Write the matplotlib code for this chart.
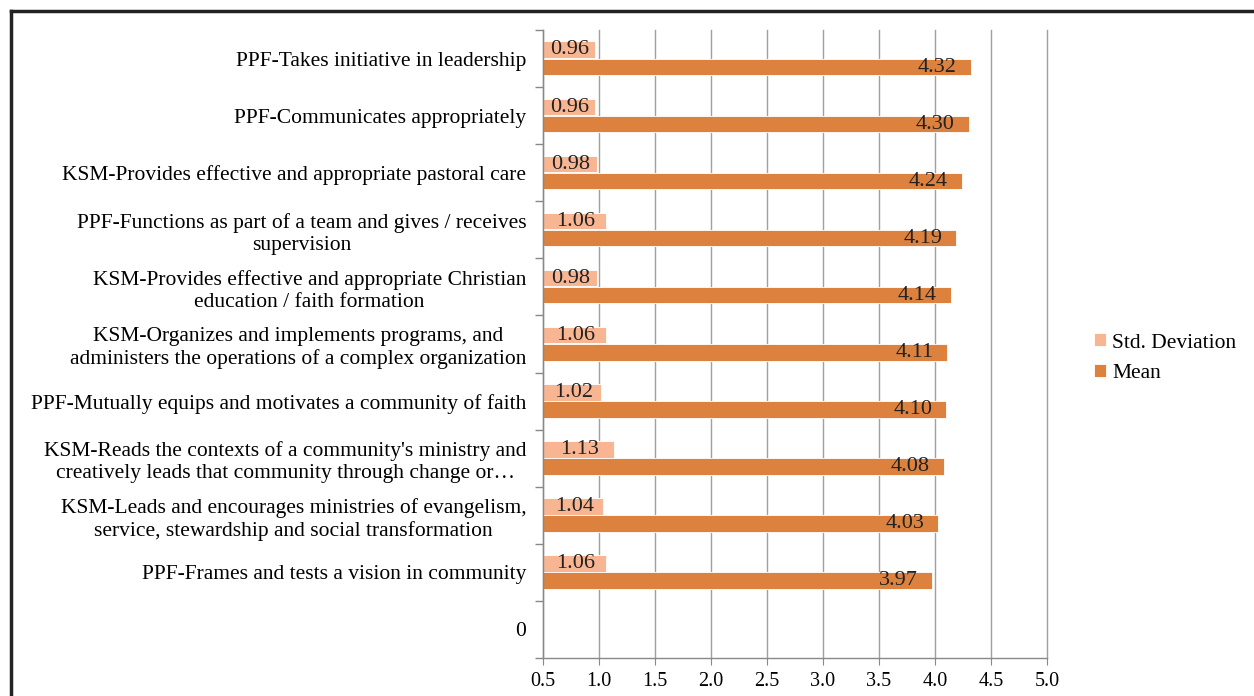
import matplotlib.pyplot as plt
import numpy as np

plt.rcParams['font.family'] = ['Liberation Serif', 'DejaVu Serif']

# categories from bottom to top (Excel order)
labels = [
    "0",
    "PPF-Frames and tests a vision in community",
    "KSM-Leads and encourages ministries of evangelism,\nservice, stewardship and social transformation",
    "KSM-Reads the contexts of a community's ministry and\ncreatively leads that community through change or\u2026",
    "PPF-Mutually equips and motivates a community of faith",
    "KSM-Organizes and implements programs, and\nadministers the operations of a complex organization",
    "KSM-Provides effective and appropriate Christian\neducation / faith formation",
    "PPF-Functions as part of a team and gives / receives\nsupervision",
    "KSM-Provides effective and appropriate pastoral care",
    "PPF-Communicates appropriately",
    "PPF-Takes initiative in leadership",
]
std_dev = [None, 1.06, 1.04, 1.13, 1.02, 1.06, 0.98, 1.06, 0.98, 0.96, 0.96]
mean = [None, 3.97, 4.03, 4.08, 4.10, 4.11, 4.14, 4.19, 4.24, 4.30, 4.32]

std_color = '#F8B592'
mean_color = '#DC823E'
axis_min = 0.5

fig = plt.figure(figsize=(12.54, 6.96), dpi=100)
ax = fig.add_axes([0.433, 0.0546, 0.402, 0.9023])

y = np.arange(len(labels))
h = 0.29
for i in range(len(labels)):
    if std_dev[i] is None:
        continue
    s, m = std_dev[i], mean[i]
    ax.barh(y[i] + 0.155, s - axis_min, left=axis_min, height=h,
            color=std_color, edgecolor='white', linewidth=0.6,
            label='Std. Deviation' if i == 1 else None)
    ax.barh(y[i] - 0.145, m - axis_min, left=axis_min, height=h,
            color=mean_color, edgecolor='white', linewidth=0.6,
            label='Mean' if i == 1 else None)
    ax.text((axis_min + s) / 2 + 0.01, y[i] + 0.15, f'{s:.2f}', ha='center',
            va='center', fontsize=16, color='#222222')
    ax.text(m - 0.125, y[i] - 0.15, f'{m:.2f}', ha='right', va='center',
            fontsize=16, color='#222222')

ax.set_xlim(0.5, 5.0)
ax.set_ylim(-0.5, len(labels) - 0.5)
ax.set_xticks(np.arange(0.5, 5.01, 0.5))
ax.set_xticklabels([f'{v:.1f}' for v in np.arange(0.5, 5.01, 0.5)])
ax.set_yticks(y)
ax.set_yticklabels(labels, multialignment='center')
ax.set_yticks(np.arange(-0.5, len(labels), 1.0), minor=True)
ax.tick_params(axis='y', which='major', length=0, pad=12, labelsize=15.5)
ax.tick_params(axis='y', which='minor', length=6, color='#888888', width=1)
ax.tick_params(axis='x', length=5, color='#888888', labelsize=14.5, pad=5)

ax.grid(axis='x', color='#a0a0a0', linewidth=1)
for gl in ax.get_xgridlines():
    gl.set_clip_on(False)
ax.set_axisbelow(True)
for side in ['top', 'right']:
    ax.spines[side].set_visible(False)
for side in ['left', 'bottom']:
    ax.spines[side].set_color('#888888')
    ax.spines[side].set_linewidth(1)

ax.legend(loc='center left', bbox_to_anchor=(1.055, 0.477), frameon=False,
          fontsize=15.5, handlelength=0.55, handleheight=0.55, handletextpad=0.3,
          labelspacing=0.55)

# black frame on the left and top edges
fig.add_artist(plt.Line2D([0.0087, 0.0087], [0.0, 0.984], color='#222222',
                          linewidth=2.5, transform=fig.transFigure))
fig.add_artist(plt.Line2D([0.0087, 1.0], [0.984, 0.984], color='#222222',
                          linewidth=2.5, transform=fig.transFigure))

fig.savefig('out.png', dpi=100)
